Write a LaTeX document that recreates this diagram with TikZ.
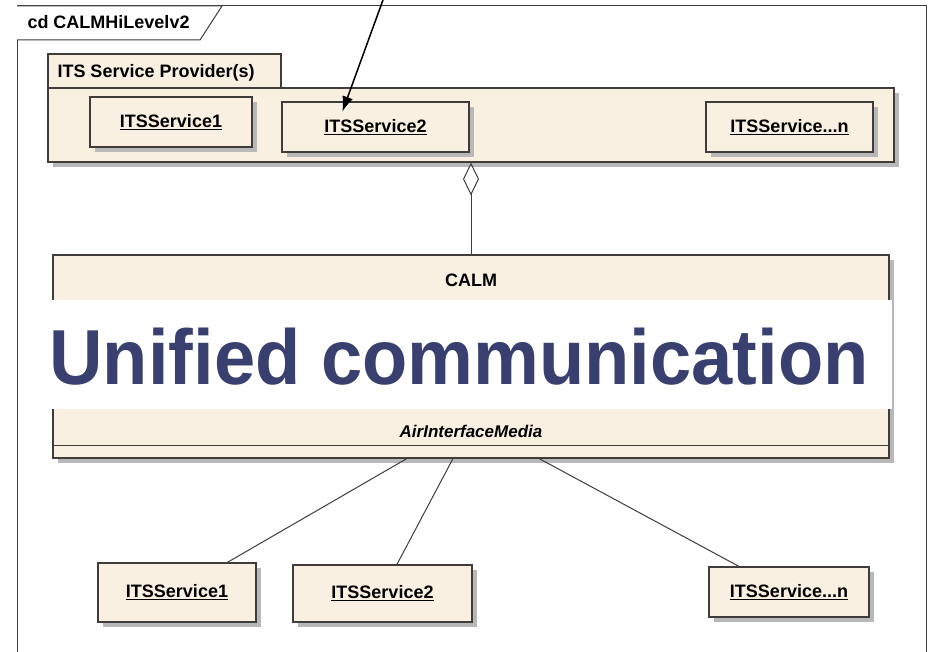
\documentclass[tikz,border=0pt]{standalone}
\usepackage{fontspec}
\setmainfont{Liberation Sans}
\usepackage{tikz}
\usetikzlibrary{arrows.meta, calc, shadows}

\definecolor{umlfill}{RGB}{250,240,226}
\definecolor{umlline}{RGB}{64,60,58}
\definecolor{bigblue}{RGB}{57,64,112}

\begin{document}
\begin{tikzpicture}[x=1pt, y=-1pt, line width=1pt,
  every node/.style={inner sep=0pt, font=\fontsize{18}{20}\selectfont\bfseries},
  cls/.style={rectangle, draw=umlline, line width=1.1pt, fill=umlfill,
    drop shadow={shadow xshift=5pt, shadow yshift=-5pt, fill=black!28, opacity=1}},
  aggr/.style={{Diamond[open, length=33pt, width=16pt]}-},
  note/.style={line width=1.5pt, -{Latex[length=15pt, width=11pt]}}]

\useasboundingbox (0,0) rectangle (930,652);

% diagram frame
\draw[umlline] (17,652) -- (17,6) -- (926,6) -- (926,652);
\draw[umlline, fill=white] (17,6) -- (222,6) -- (200,40) -- (17,40);
\node[anchor=west, font=\fontsize{18}{20}\selectfont\bfseries] (title) at (27,22.5) {cd CALMHiLevelv2};

% service provider package
\node[rectangle, draw=umlline, line width=1.1pt, fill=umlfill, minimum width=233pt, minimum height=34pt] (pkgtab) at (164.5,71) {};
\node[cls, minimum width=846pt, minimum height=74pt] (pkg) at (471,125) {};
\node[anchor=base west] (pkgname) at (57,78) {ITS Service Provider(s)};

\node[cls, minimum width=162pt, minimum height=50pt] (prov1) at (171,122) {\underline{ITSService1}};
\node[cls, minimum width=187pt, minimum height=50pt] (prov2) at (375.5,127) {\underline{ITSService2}};
\node[cls, minimum width=167pt, minimum height=50pt] (provn) at (789.5,127) {\underline{ITSService...n}};

% CALM class
\node[cls, minimum width=836pt, minimum height=203pt] (calm) at (471,356.5) {};
\node (calmname) at ($(calm.north)+(0,26)$) {CALM};
\draw[umlline, line width=1.1pt] ($(calm.south west)+(0,-13)$) -- ($(calm.south east)+(0,-13)$);
\node[font=\fontsize{17}{20}\selectfont\bfseries\itshape] (media) at ($(calm.south)+(0,-27)$) {AirInterfaceMedia};

\draw[umlline, aggr] (pkg.south) -- (calm.north);

% air interface instances
\node[cls, minimum width=158pt, minimum height=59pt] (air1) at (177,592.5) {\underline{ITSService1}};
\node[cls, minimum width=179pt, minimum height=57pt] (air2) at (382.5,593.5) {\underline{ITSService2}};
\node[cls, minimum width=160pt, minimum height=50pt] (airn) at (789,592) {\underline{ITSService...n}};

\draw[umlline] ($(calm.south west)!.4234!(calm.south east)$) -- ($(air1.north west)!.816!(air1.north east)$);
\draw[umlline] ($(calm.south west)!.4785!(calm.south east)$) -- ($(air2.north west)!.58!(air2.north east)$);
\draw[umlline] ($(calm.south west)!.5813!(calm.south east)$) -- ($(airn.north west)!.19!(airn.north east)$);

% pointer from above
\coordinate (src) at (383,0);
\draw[note] (src) -- ($(prov2.north west)+(61,10)$);

% banner over the class
\node[rectangle, fill=white, minimum width=844pt, minimum height=109pt] (banner) at (470,354.5) {};
\node[anchor=base, text=bigblue, font=\fontsize{78}{80}\selectfont\bfseries] (slogan) at (459,385) {\scalebox{0.95}[1]{Unified communication}};
\end{tikzpicture}
\end{document}
